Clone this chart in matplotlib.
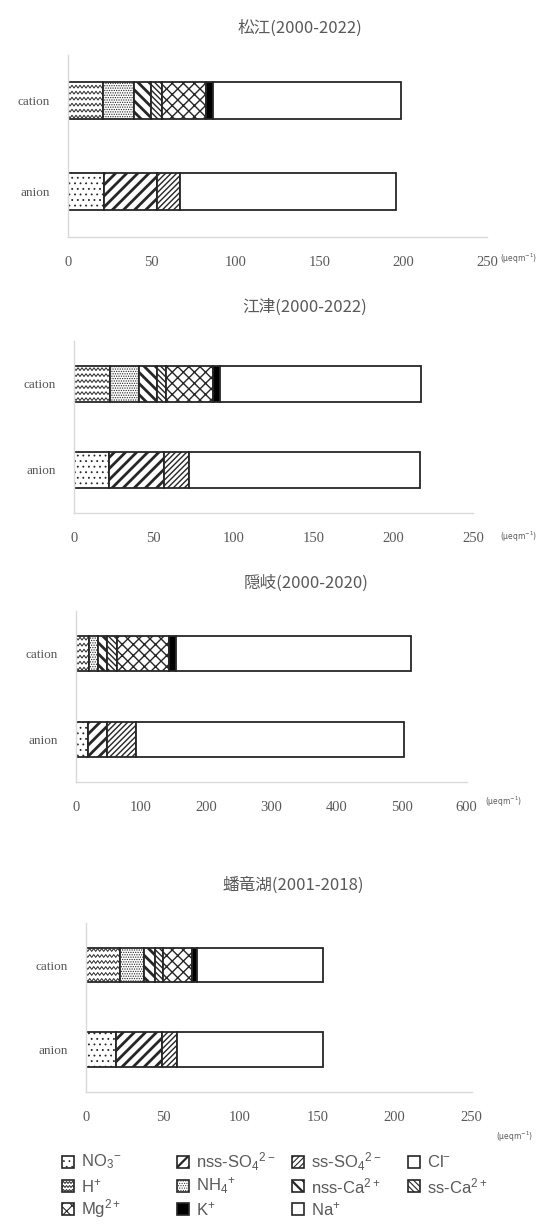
import matplotlib
matplotlib.use('Agg')
import matplotlib.pyplot as plt
from matplotlib.patches import Rectangle
import numpy as np

plt.rcParams['font.family'] = ['Noto Sans CJK JP', 'DejaVu Sans']
plt.rcParams['mathtext.default'] = 'regular'

stations = ['松江', '江津', '隠岐', '蟠竜湖']
periods = ['2000-2022', '2000-2022', '2000-2020', '2001-2018']

# 陽イオン (μeq/L)
h_ion = [21.1, 22.5, 20.3, 22.2]
nh4 = [18.5, 18.4, 13.4, 15.6]
nss_ca = [9.9, 10.9, 13.5, 7.1]
ss_ca = [6.4, 5.6, 15.4, 5.0]
mg = [26.4, 29.8, 80.4, 18.8]
k_ion = [4.0, 4.2, 11.0, 3.2]
na = [112.4, 125.9, 361.0, 82.0]

# 陰イオン (μeq/L)
no3 = [21.7, 22.1, 18.9, 19.4]
nss_so4 = [31.6, 34.3, 29.3, 29.8]
ss_so4 = [13.5, 15.8, 44.1, 9.7]
cl = [129.2, 144.5, 411.2, 95.0]

x_max = [250, 250, 600, 250]
x_step = [50, 50, 100, 50]

cation_series = [('H', h_ion), ('NH4', nh4), ('nssCa', nss_ca), ('ssCa', ss_ca),
                 ('Mg', mg), ('K', k_ion), ('Na', na)]
anion_series = [('NO3', no3), ('nssSO4', nss_so4), ('ssSO4', ss_so4), ('Cl', cl)]

labels = {
    'NO3': 'NO$_3$$^{-}$', 'nssSO4': 'nss-SO$_4$$^{2-}$', 'ssSO4': 'ss-SO$_4$$^{2-}$',
    'Cl': 'Cl$^{-}$', 'H': 'H$^{+}$', 'NH4': 'NH$_4$$^{+}$', 'nssCa': 'nss-Ca$^{2+}$',
    'ssCa': 'ss-Ca$^{2+}$', 'Mg': 'Mg$^{2+}$', 'K': 'K$^{+}$', 'Na': 'Na$^{+}$',
}

# 塗りつぶしパターン
styles = {
    'NO3': dict(fc='white', hatch='...', hlw=0.6),
    'nssSO4': dict(fc='white', hatch='///', hlw=2.0),
    'ssSO4': dict(fc='white', hatch='//////', hlw=1.0),
    'Cl': dict(fc='white', hatch=None, hlw=1.0),
    'H': dict(fc='white', hatch=None, hlw=1.0),
    'NH4': dict(fc='white', hatch='.......', hlw=0.6),
    'nssCa': dict(fc='white', hatch='\\\\\\', hlw=2.0),
    'ssCa': dict(fc='white', hatch='\\\\\\\\\\\\', hlw=1.0),
    'Mg': dict(fc='white', hatch='xxx', hlw=1.0),
    'K': dict(fc='black', hatch=None, hlw=1.0),
    'Na': dict(fc='white', hatch=None, hlw=1.0),
}

EDGE = '#262626'
GRAY = '#595959'
AXIS = '#d9d9d9'

W, H = 559, 1226
fig = plt.figure(figsize=(W / 100, H / 100), dpi=100)

# 各グラフの位置 (px): left, top, right, bottom
boxes = [(68, 55, 487, 237), (74, 341, 473.3, 513),
         (76, 611, 466.7, 781.7), (85.7, 923, 471.7, 1091.7)]
title_pos = [(300, 28), (305, 307), (306, 583), (293, 885)]
unit_pos = [(500, 259, 'left'), (500, 537, 'left'), (485, 802, 'left'), (533, 1137, 'right')]


def wave_fill(ax, patch, spacing=6.0, period=4.0, amp=1.4):
    # 波線模様 (H+)
    p0 = ax.transData.transform((0, 0))
    p1 = ax.transData.transform((1, 1))
    sx, sy = abs(p1[0] - p0[0]), abs(p1[1] - p0[1])
    x0, y0 = patch.get_x(), patch.get_y()
    w, h = patch.get_width(), patch.get_height()
    xs = np.arange(x0, x0 + w + period / sx, period / 2 / sx)
    for yr in np.arange(y0 + 2.5 / sy, y0 + h, spacing / sy):
        ys = yr + np.where(np.arange(len(xs)) % 2 == 0, amp, -amp) / sy
        ln, = ax.plot(xs, ys, color=EDGE, lw=0.7, zorder=patch.get_zorder() + 0.1)
        ln.set_clip_path(patch)


def draw_stack(ax, ypos, series, i):
    left = 0
    for key, vals in series:
        v = vals[i]
        st = styles[key]
        with plt.rc_context({'hatch.linewidth': st['hlw']}):
            bar = ax.barh(ypos, v, left=left, height=0.41, color=st['fc'],
                          edgecolor=EDGE, linewidth=1.3, hatch=st['hatch'])[0]
        if key == 'H':
            wave_fill(ax, bar)
        left += v


for i in range(len(stations)):
    l, t, r, b = boxes[i]
    ax = fig.add_axes([l / W, 1 - b / H, (r - l) / W, (b - t) / H])
    ax.set_xlim(0, x_max[i])
    ax.set_ylim(-0.5, 1.5)
    for s in ['top', 'right']:
        ax.spines[s].set_visible(False)
    for s in ['left', 'bottom']:
        ax.spines[s].set_color(AXIS)
        ax.spines[s].set_linewidth(1.0)
    ax.set_xticks(np.arange(0, x_max[i] + 1, x_step[i]))
    ax.set_yticks([0, 1])
    ax.set_yticklabels(['anion', 'cation'])
    ax.tick_params(length=0, colors=GRAY)
    ax.tick_params(axis='x', pad=14, labelsize=10.5)
    ax.tick_params(axis='y', pad=13, labelsize=9.5)
    for lab in ax.get_xticklabels() + ax.get_yticklabels():
        lab.set_family('Liberation Serif')

    draw_stack(ax, 1, cation_series, i)
    draw_stack(ax, 0, anion_series, i)

    tx, ty = title_pos[i]
    fig.text(tx / W, 1 - ty / H, f'{stations[i]}({periods[i]})', ha='center',
             va='center', fontsize=12, color=GRAY)
    ux, uy, ha = unit_pos[i]
    fig.text(ux / W, 1 - uy / H, '(μeqm$^{-1}$)', ha=ha, va='center',
             fontsize=5.5, color=GRAY, family='DejaVu Sans')

# 凡例
lax = fig.add_axes([0, 0, 1, 1])
lax.set_xlim(0, W)
lax.set_ylim(H, 0)
lax.axis('off')
legend_rows = [['NO3', 'nssSO4', 'ssSO4', 'Cl'],
               ['H', 'NH4', 'nssCa', 'ssCa'],
               ['Mg', 'K', 'Na']]
col_x = [62, 177, 292, 408]
row_y = [1162, 1186, 1209]
for ri, row in enumerate(legend_rows):
    for ci, key in enumerate(row):
        st = styles[key]
        x, y = col_x[ci], row_y[ri]
        with plt.rc_context({'hatch.linewidth': st['hlw'] * 0.8}):
            box = Rectangle((x, y - 6), 12, 12, facecolor=st['fc'], edgecolor=EDGE,
                            linewidth=1.2, hatch=st['hatch'])
        lax.add_patch(box)
        if key == 'H':
            wave_fill(lax, box, spacing=4.0, period=3.0, amp=1.0)
        lax.text(x + 19, y, labels[key], ha='left', va='center', fontsize=12,
                 color=GRAY, family='Liberation Sans')

fig.savefig('out.png', dpi=100)
